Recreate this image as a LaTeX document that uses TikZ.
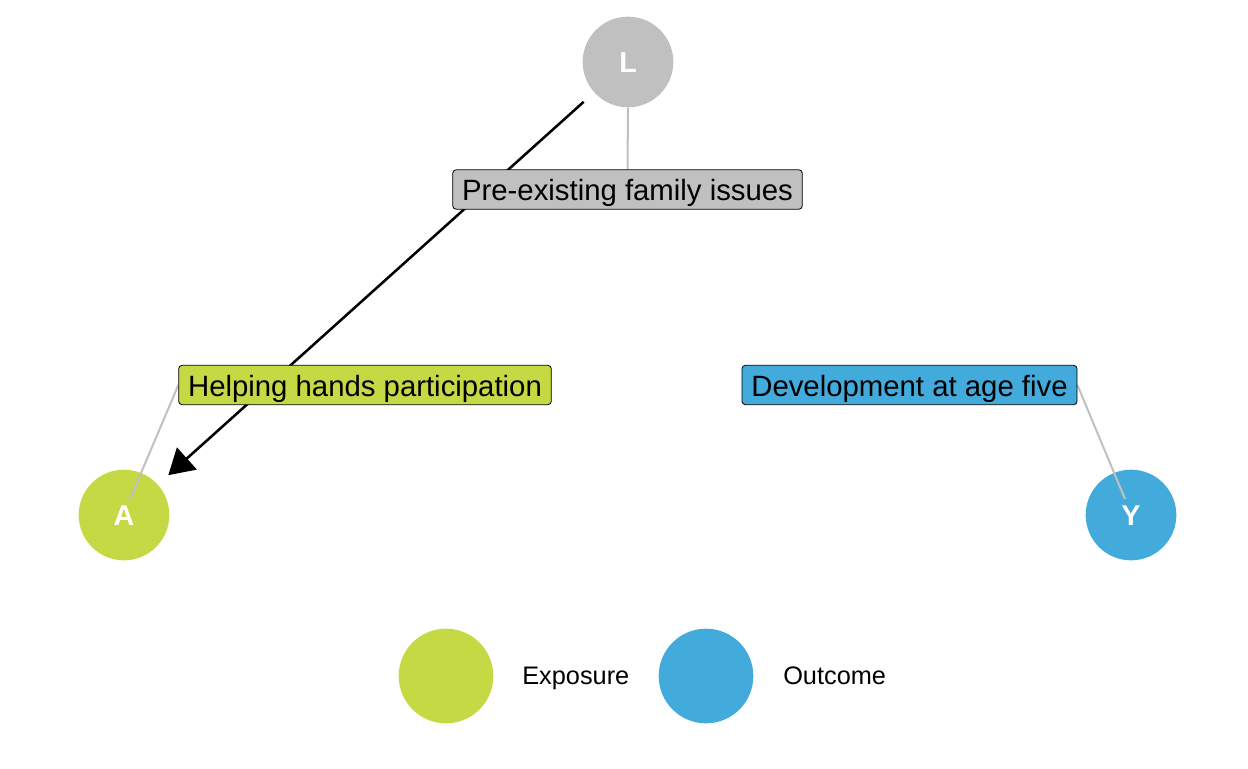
\documentclass[tikz,border=0pt]{standalone}
\usepackage{fontspec}
\setmainfont{Liberation Sans}
\usetikzlibrary{arrows.meta}
\definecolor{cgray}{HTML}{C0C0C0}
\definecolor{cgreen}{HTML}{C5D944}
\definecolor{cblue}{HTML}{42ABDC}
\pgfdeclarelayer{circ}
\pgfdeclarelayer{edge}
\pgfsetlayers{circ,edge,main}
\tikzset{
  dagnode/.style={circle, inner sep=0pt, minimum size=68pt, text=white, font=\fontsize{21.5}{24}\selectfont\bfseries, text height=15.4pt, text depth=0pt},
  lab/.style={draw=black, line width=0.6pt, rounded corners=2.5pt, inner xsep=7pt, inner ysep=0pt, minimum height=29.5pt, text height=19pt, text depth=2.2pt, font=\fontsize{22}{26}\selectfont, text=black},
  seg/.style={draw=cgray, line width=1.5pt},
  causal/.style={draw=black, line width=1.9pt, -{Triangle[length=18.75pt, width=22pt]}, shorten <=10.5pt, shorten >=10.5pt},
  legc/.style={circle, inner sep=0pt, minimum size=71pt},
  legt/.style={anchor=base west, inner sep=0pt, font=\fontsize{19}{22}\selectfont}
}
\begin{document}
\begin{tikzpicture}[x=0.75pt, y=-0.75pt]
\useasboundingbox (0,0) rectangle (1248,768);
\begin{pgfonlayer}{circ}
\node[dagnode, fill=cgray] (L) at (628,62) {L};
\node[dagnode, fill=cgreen] (A) at (124,515) {A};
\node[dagnode, fill=cblue] (Y) at (1131,515) {Y};
\end{pgfonlayer}
\node[lab, fill=cgray] (lL) at (627.5,189.5) {Pre-existing family issues};
\node[lab, fill=cgreen] (lA) at (365,385) {Helping hands participation};
\node[lab, fill=cblue] (lY) at (909.5,385) {Development at age five};
\coordinate (a1) at (130,499);
\coordinate (y1) at (1125,499);
\begin{pgfonlayer}{edge}
\draw[causal] (L) -- (A);
\draw[seg] (L.south) -- (lL.north);
\draw[seg] (a1) -- (lA.west);
\draw[seg] (y1) -- (lY.east);
\end{pgfonlayer}
\node[legc, fill=cgreen] (g1) at (446,676) {};
\node[legc, fill=cblue] (g2) at (706,676) {};
\node[legt] (t1) at (522,684) {Exposure};
\node[legt] (t2) at (783,684) {Outcome};
\end{tikzpicture}
\end{document}
